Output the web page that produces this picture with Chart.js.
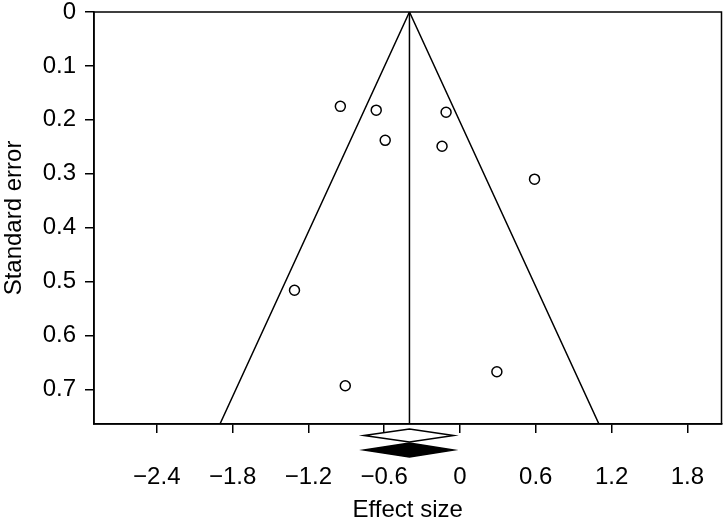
<!DOCTYPE html>
<html>
<head>
<meta charset="utf-8">
<script src="https://cdn.jsdelivr.net/npm/chart.js@4"></script>
<style>
  html, body { margin: 0; padding: 0; background: #fff; }
  #wrap { width: 728px; height: 522px; }
</style>
</head>
<body>
<div id="wrap"><canvas id="funnel"></canvas></div>
<script>
// study estimates
const effectSize = [-0.947, -0.663, -0.11, -0.592, -0.142, 0.59, -1.31, 0.292, -0.908];
const stdError   = [0.175, 0.182, 0.186, 0.238, 0.249, 0.310, 0.516, 0.667, 0.693];

// funnel outline and pooled line
const funnelX = [-1.90, -0.40, 1.10];
const funnelY = [0.764, 0, 0.764];
const pooledX = [-0.40, -0.40];
const pooledY = [0, 0.764];

// summary diamonds under the axis: [lower, centre, upper]
const diamondOpen   = [-0.76, -0.40, -0.05];
const diamondFilled = [-0.76, -0.40, -0.05];

const xTicks = [-2.4, -1.8, -1.2, -0.6, 0, 0.6, 1.2, 1.8];
const yTicks = [0, 0.1, 0.2, 0.3, 0.4, 0.5, 0.6, 0.7];

const FONT = '"Liberation Sans", Arial, sans-serif';
const INK = '#000';

const zip = (xs, ys) => xs.map((x, i) => ({ x, y: ys[i] }));
const fmt = v => (v < 0 ? '\u2212' : '') + (v === 0 ? '0' : Math.abs(v).toFixed(1));

const frame = {
  id: 'frame',
  afterDraw(chart) {
    const { ctx, chartArea: a, scales } = chart;
    ctx.save();
    ctx.strokeStyle = INK;
    ctx.lineWidth = 1.5;
    ctx.strokeRect(a.left, a.top, a.right - a.left, a.bottom - a.top);

    // diamonds drawn below the x axis
    const drawDiamond = (d, yTop, yBot, filled) => {
      const l = scales.x.getPixelForValue(d[0]);
      const c = scales.x.getPixelForValue(d[1]);
      const r = scales.x.getPixelForValue(d[2]);
      const m = (yTop + yBot) / 2;
      ctx.beginPath();
      ctx.moveTo(l, m);
      ctx.lineTo(c, yTop);
      ctx.lineTo(r, m);
      ctx.lineTo(c, yBot);
      ctx.closePath();
      ctx.fillStyle = filled ? INK : '#fff';
      ctx.fill();
      ctx.lineWidth = 1.5;
      ctx.stroke();
    };
    drawDiamond(diamondOpen, a.bottom + 5, a.bottom + 18, false);
    drawDiamond(diamondFilled, a.bottom + 19, a.bottom + 33, true);
    ctx.restore();
  },
};

new Chart(document.getElementById('funnel'), {
  type: 'scatter',
  data: {
    datasets: [
      {
        label: 'Funnel', data: zip(funnelX, funnelY), showLine: true,
        borderColor: INK, borderWidth: 1.5, pointRadius: 0, fill: false,
      },
      {
        label: 'Pooled', data: zip(pooledX, pooledY), showLine: true,
        borderColor: INK, borderWidth: 1.5, pointRadius: 0, fill: false,
      },
      {
        label: 'Studies', data: zip(effectSize, stdError),
        pointRadius: 5, pointBorderWidth: 1.5,
        pointBorderColor: INK, pointBackgroundColor: '#fff',
      },
    ],
  },
  options: {
    responsive: true, maintainAspectRatio: false, animation: false,
    layout: { padding: { top: 12, right: 0, left: 0, bottom: 0 } },
    plugins: { legend: { display: false }, tooltip: { enabled: false } },
    scales: {
      x: {
        type: 'linear', min: -2.897, max: 2.07,
        afterBuildTicks: s => { s.ticks = xTicks.map(value => ({ value })); },
        afterFit: s => { s.height = 98; s.paddingLeft = 0; s.paddingRight = 0; },
        ticks: { color: INK, font: { family: FONT, size: 24 }, padding: 30, callback: fmt, maxRotation: 0 },
        grid: { drawOnChartArea: false, drawTicks: true, tickLength: 9, color: INK, lineWidth: 1.5 },
        border: { display: true, color: INK, width: 1.5 },
        title: { display: true, text: 'Effect size', color: INK, font: { family: FONT, size: 24 }, padding: { top: 1, bottom: -3 } },
      },
      y: {
        type: 'linear', reverse: true, min: 0, max: 0.764,
        afterBuildTicks: s => { s.ticks = yTicks.map(value => ({ value })); },
        afterFit: s => { s.width = 94; s.paddingTop = 0; s.paddingBottom = 0; },
        ticks: { color: INK, font: { family: FONT, size: 24 }, padding: 9, callback: fmt },
        grid: { drawOnChartArea: false, drawTicks: true, tickLength: 9, color: INK, lineWidth: 1.5 },
        border: { display: true, color: INK, width: 1.5 },
        title: { display: true, text: 'Standard error', color: INK, font: { family: FONT, size: 24 }, padding: { top: 0, bottom: 0 } },
      },
    },
  },
  plugins: [frame],
});
</script>
</body>
</html>
